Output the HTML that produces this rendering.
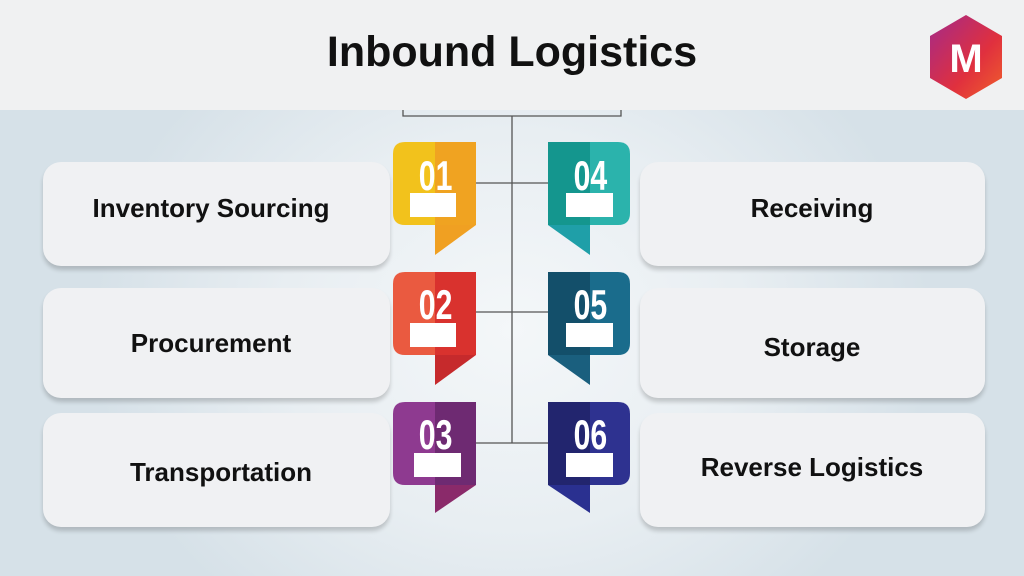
<!DOCTYPE html>
<html><head><meta charset="utf-8"><style>
html,body{margin:0;padding:0}
body{width:1024px;height:576px;overflow:hidden;position:relative;font-family:"Liberation Sans",sans-serif;
background:radial-gradient(ellipse 420px 360px at 512px 330px,#f4f7f9 0%,#e8eef2 55%,#d6e1e8 100%);}
.hdr{position:absolute;left:0;top:0;width:1024px;height:110px;background:#f0f1f2}
.title{position:absolute;left:0;width:1024px;top:28px;text-align:center;font-size:43px;font-weight:bold;color:#111}
.card{position:absolute;background:#f0f1f3;border-radius:18px;box-shadow:0 4px 4px rgba(0,0,0,0.18)}
.t{position:absolute;font-size:26px;font-weight:bold;color:#111;text-align:center;white-space:nowrap;line-height:30px}
svg{position:absolute;left:0;top:0}
</style></head><body>
<div class="hdr"></div>
<div class="title">Inbound Logistics</div>

<div class="card" style="left:43px;top:162px;width:347px;height:104px"></div>
<div class="card" style="left:43px;top:288px;width:347px;height:110px"></div>
<div class="card" style="left:43px;top:413px;width:347px;height:114px"></div>
<div class="card" style="left:640px;top:162px;width:345px;height:104px"></div>
<div class="card" style="left:640px;top:288px;width:345px;height:110px"></div>
<div class="card" style="left:640px;top:413px;width:345px;height:114px"></div>

<div class="t" style="left:11px;width:400px;top:193px">Inventory Sourcing</div>
<div class="t" style="left:11px;width:400px;top:328px">Procurement</div>
<div class="t" style="left:21px;width:400px;top:457px">Transportation</div>
<div class="t" style="left:612px;width:400px;top:193px">Receiving</div>
<div class="t" style="left:612px;width:400px;top:332px">Storage</div>
<div class="t" style="left:612px;width:400px;top:452px">Reverse Logistics</div>

<svg width="1024" height="576" viewBox="0 0 1024 576">
<defs>
<linearGradient id="m" x1="0" y1="0" x2="1" y2="1"><stop offset="0" stop-color="#a32a8a"/><stop offset="0.6" stop-color="#e0303e"/><stop offset="1" stop-color="#f0602c"/></linearGradient>
</defs>
<polygon points="966,15 1002,36 1002,78 966,99 930,78 930,36" fill="url(#m)"/>
<text x="966" y="72" text-anchor="middle" font-family="Liberation Sans" font-weight="bold" font-size="40" fill="#fff">M</text>

<g stroke="#555" stroke-width="1.3" fill="none">
<path d="M403,110 V116 H621 V110"/>
<path d="M512,116 V443"/>
<path d="M476,183 H548 M476,312 H548 M476,443 H548"/>
</g>

<g>
<path d="M405,142 H476 V225 H405 Q393,225 393,213 V154 Q393,142 405,142Z" fill="#f2c21c"/>
<path d="M435,142 L476,142 V225 L435,225Z" fill="#f0a022" opacity="0.9"/>
<path d="M435,225 H476 L435,255Z" fill="#f0a022"/>
</g>
<g>
<path d="M405,272 H476 V355 H405 Q393,355 393,343 V284 Q393,272 405,272Z" fill="#ea5a40"/>
<path d="M435,272 L476,272 V355 L435,355Z" fill="#d9322e"/>
<path d="M435,355 H476 L435,385Z" fill="#c62a2c"/>
</g>
<g>
<path d="M405,402 H476 V485 H405 Q393,485 393,473 V414 Q393,402 405,402Z" fill="#8e3a90"/>
<path d="M435,402 L476,402 V485 L435,485Z" fill="#6e2a72"/>
<path d="M435,485 H476 L435,513Z" fill="#8a2a6a"/>
</g>
<g>
<path d="M548,142 H618 Q630,142 630,154 V213 Q630,225 618,225 H548Z" fill="#2bb3ac"/>
<path d="M548,142 L590,142 V225 L548,225Z" fill="#14968e"/>
<path d="M548,225 H590 V255Z" fill="#1f9fa8"/>
</g>
<g>
<path d="M548,272 H618 Q630,272 630,284 V343 Q630,355 618,355 H548Z" fill="#1a6c8c"/>
<path d="M548,272 L590,272 V355 L548,355Z" fill="#134f6a"/>
<path d="M548,355 H590 V385Z" fill="#1a5f7e"/>
</g>
<g>
<path d="M548,402 H618 Q630,402 630,414 V473 Q630,485 618,485 H548Z" fill="#2e3290"/>
<path d="M548,402 L590,402 V485 L548,485Z" fill="#22256e"/>
<path d="M548,485 H590 V513Z" fill="#2a3090"/>
</g>

<g font-family="Liberation Sans" font-weight="bold" font-size="42" fill="#fff" text-anchor="middle" transform="scale(0.72,1)">
<text x="605" y="190">01</text>
<text x="605" y="319">02</text>
<text x="605" y="449">03</text>
<text x="820" y="190">04</text>
<text x="820" y="319">05</text>
<text x="820" y="449">06</text>
</g>
<g fill="#fff">
<rect x="410" y="193" width="46" height="24"/>
<rect x="410" y="323" width="46" height="24"/>
<rect x="414" y="453" width="47" height="24"/>
<rect x="566" y="193" width="47" height="24"/>
<rect x="566" y="323" width="47" height="24"/>
<rect x="566" y="453" width="47" height="24"/>
</g>
</svg>
</body></html>
